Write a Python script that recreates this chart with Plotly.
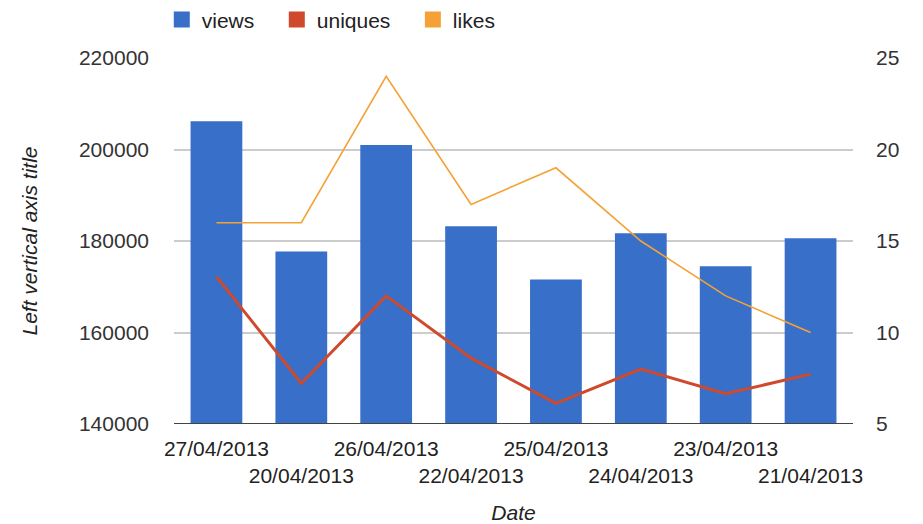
import plotly.graph_objects as go

dates = ["27/04/2013", "20/04/2013", "26/04/2013", "22/04/2013",
         "25/04/2013", "24/04/2013", "23/04/2013", "21/04/2013"]
views = [206200, 177700, 201000, 183200, 171600, 181700, 174500, 180600]
uniques = [172200, 148900, 168000, 154400, 144500, 152000, 146600, 150900]
likes = [16, 16, 24, 17, 19, 15, 12, 10]
series_names = ["views", "uniques", "likes"]

BLUE = "#376fc9"
RED = "#cf4a2c"
ORANGE = "#f4a236"
COLORS = [BLUE, RED, ORANGE]
FONT = "Liberation Sans, Arial, sans-serif"
TXT = "#222222"
TXT_Y = "#333333"
FS = 21

ticktext = [d if i % 2 == 0 else "<br>" + d for i, d in enumerate(dates)]

fig = go.Figure()
fig.add_trace(go.Bar(x=dates, y=views, name="views", marker_color=BLUE,
                     marker_line_width=0, showlegend=False))
fig.add_trace(go.Scatter(x=dates, y=uniques, name="uniques", mode="lines",
                         line=dict(color=RED, width=3), showlegend=False))
fig.add_trace(go.Scatter(x=dates, y=likes, name="likes", mode="lines", yaxis="y2",
                         line=dict(color=ORANGE, width=1.6), showlegend=False))
# legend entries (square swatches)
for name, col in zip(series_names, COLORS):
    fig.add_trace(go.Scatter(x=[None], y=[None], name=name + "&nbsp;&nbsp;&nbsp;",
                             mode="markers",
                             marker=dict(symbol="square", size=22, color=col)))

# the page body adds an 8px offset, so the figure is sized to fit the window
fig.update_layout(
    width=915, height=516,
    margin=dict(l=166, r=70, t=50, b=100, autoexpand=False),
    paper_bgcolor="white", plot_bgcolor="white",
    font=dict(family=FONT, size=FS, color=TXT),
    bargap=0.39,
    legend=dict(orientation="h", x=-0.018, xanchor="left", y=1.16, yanchor="top",
                font=dict(size=FS, color=TXT), bgcolor="rgba(0,0,0,0)"),
    xaxis=dict(
        type="category", tickvals=dates, ticktext=ticktext, tickangle=0,
        showgrid=False, showline=False, ticks="", zeroline=False,
        ticklabelstandoff=10, tickfont=dict(color=TXT),
        title=dict(text="<i>Date</i>", font=dict(size=FS, color=TXT), standoff=25),
    ),
    yaxis=dict(
        range=[140000, 220000], dtick=20000, tickformat="d",
        showgrid=True, gridcolor="#cccccc", gridwidth=1.5, zeroline=False,
        showline=False, ticks="", ticklabelstandoff=24, tickfont=dict(color=TXT_Y),
        title=dict(text="<i>Left vertical axis title</i>", font=dict(size=FS, color=TXT), standoff=35),
    ),
    yaxis2=dict(
        range=[5, 25], dtick=5, overlaying="y", side="right",
        showgrid=False, zeroline=False, showline=False, ticks="",
        ticklabelstandoff=22, tickfont=dict(color=TXT_Y),
    ),
    shapes=[dict(type="line", xref="paper", yref="y", x0=0, x1=1,
                 y0=140000, y1=140000, line=dict(color="#444444", width=2))],
)

fig.write_html("out.html")
